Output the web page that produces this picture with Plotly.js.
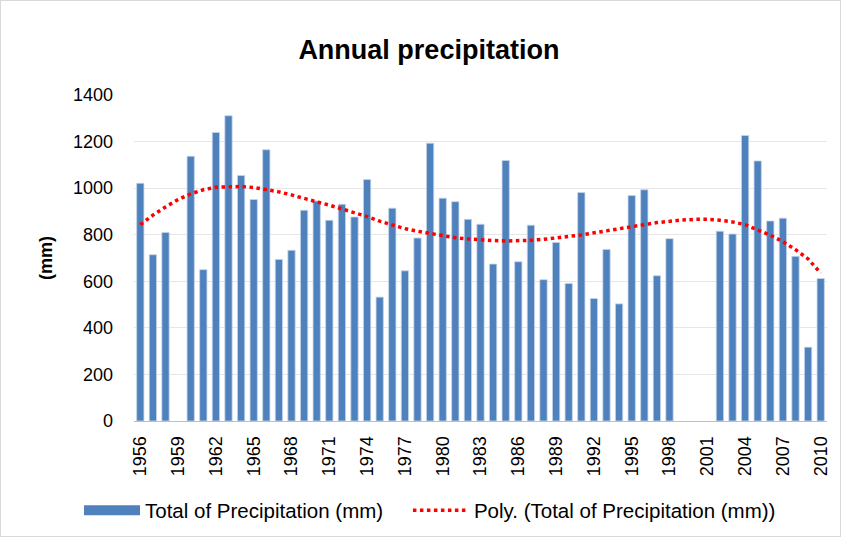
<!DOCTYPE html>
<html><head><meta charset="utf-8">
<script src="https://cdn.plot.ly/plotly-3.0.1.min.js"></script>
<style>html,body{margin:0;padding:0;background:#fff;}#chart{position:absolute;left:0;top:0;width:839px;height:535px;border:1px solid #d9d9d9;}</style>
</head><body><div id="chart"></div>
<script>
const years = [];
for (let y = 1956; y <= 2010; y++) years.push(y);
const precip = [1021,714,810,null,1137,650,1239,1311,1054,951,1165,694,733,905,945,862,931,
876,1037,532,914,645,786,1193,957,942,866,845,674,1119,684,841,607,767,591,981,526,
737,503,968,993,624,783,null,null,null,815,803,1226,1117,859,871,707,317,612];
const trend = [843,884,919,951,975,993,1004,1007,1007,1003,994,984,971,955,941,927,911,
892,878,858,841,826,815,805,795,787,782,777,775,773,773,776,780,786,792,799,808,
816,825,835,843,852,858,863,866,866,862,855,843,820,798,770,736,696,635];
const tickYears = [1956,1959,1962,1965,1968,1971,1974,1977,1980,1983,1986,1989,1992,1995,1998,2001,2004,2007,2010];
const barName = 'Total of Precipitation (mm)';
const trendName = 'Poly. (Total of Precipitation (mm))';
const font = "Liberation Sans, Arial, sans-serif";
const data = [
 {type:'bar', x:years, y:precip, name:barName, showlegend:false,
  marker:{color:'#4F81BD', line:{color:'#C6D5EA', width:0.8}}},
 {type:'scatter', mode:'lines', x:[null], y:[null], name:barName, showlegend:true, legend:'legend',
  line:{color:'#4F81BD', width:12}},
 {type:'scatter', mode:'lines', x:years, y:trend, name:trendName, legend:'legend2',
  line:{color:'#FF0000', width:3.5, dash:'dot'}}
];
const legendFont = {family:font, size:20.5, color:'#000'};
const layout = {
 width:839, height:535,
 margin:{l:133, r:13, t:94, b:115},
 paper_bgcolor:'#fff', plot_bgcolor:'#fff',
 bargap:0.42,
 title:{text:'<b>Annual precipitation</b>', x:0.51, xanchor:'center', y:0.91, yanchor:'middle',
  font:{family:font, size:27, color:'#000'}},
 xaxis:{range:[1955.5,2010.5], tickmode:'array', tickvals:tickYears, ticktext:tickYears.map(String),
  tickangle:-90, tickfont:{family:font, size:18, color:'#000'}, showgrid:false, zeroline:false,
  showline:true, linecolor:'#bfbfbf', linewidth:1, ticks:'', ticklen:0, ticklabelstandoff:7,
  automargin:false},
 yaxis:{range:[0,1400], dtick:200, tickfont:{family:font, size:18, color:'#000'},
  gridcolor:'#e6e6e6', gridwidth:1, zeroline:false, showline:false, ticklabelstandoff:20,
  automargin:false,
  title:{text:'<b>(mm)</b>', font:{family:font, size:18, color:'#000'}, standoff:15}},
 showlegend:true,
 legend:{orientation:'h', xref:'container', yref:'container', x:0.093, y:0.048, xanchor:'left', yanchor:'middle',
  font:legendFont, itemwidth:56},
 legend2:{orientation:'h', xref:'container', yref:'container', x:0.485, y:0.048, xanchor:'left', yanchor:'middle',
  font:legendFont, itemwidth:56}
};
Plotly.newPlot('chart', data, layout, {displayModeBar:false, staticPlot:true});
</script></body></html>
